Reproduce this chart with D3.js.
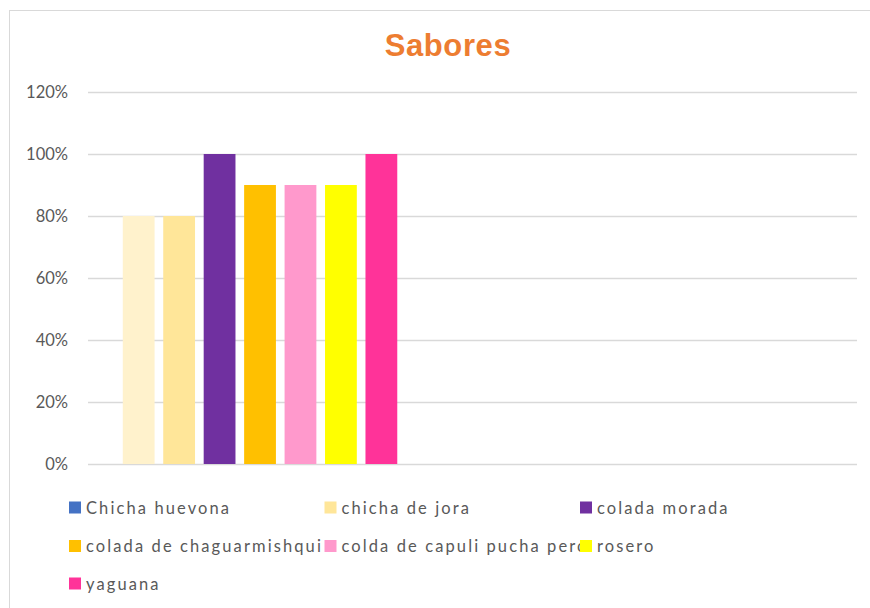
<!DOCTYPE html>
<html>
<head>
<meta charset="utf-8">
<script src="https://cdn.jsdelivr.net/npm/d3@7"></script>
<style>
  html, body { margin: 0; padding: 0; background: #fff; }
  svg { display: block; }
</style>
</head>
<body>
<svg id="chart"></svg>
<script>
(function(){
  // DATA
  const title = "Sabores";
  const categories = ["Sabores", "vacío"];
  const series = ["Chicha huevona", "chicha de jora", "colada morada", "colada de chaguarmishqui",
                  "colda de capuli pucha pero", "rosero", "yaguana", ""];
  const values = [0.8, 0.8, 1.0, 0.9, 0.9, 0.9, 1.0, null];
  const barColors = ["#FFF2CC", "#FFE699", "#7030A0", "#FFC000", "#FF99CC", "#FFFF00", "#FF3399", "none"];
  const legendColors = ["#4472C4", "#FFE699", "#7030A0", "#FFC000", "#FF99CC", "#FFFF00", "#FF3399"];
  const yTicks = [0, 0.2, 0.4, 0.6, 0.8, 1.0, 1.2];

  const w = 870, h = 608;
  const left = 88, right = 857, top = 92, bottom = 464;

  const svg = d3.select("#chart").attr("width", w).attr("height", h);

  // chart area border (runs off the picture on the right and bottom)
  svg.append("rect")
    .attr("x", 9.5).attr("y", 10.5)
    .attr("width", 900).attr("height", 640)
    .attr("fill", "#fff")
    .attr("stroke", "#D9D9D9");

  // TITLE
  svg.append("text")
    .attr("x", 448).attr("y", 56)
    .attr("text-anchor", "middle")
    .attr("font-family", "Liberation Sans, Arial, sans-serif")
    .attr("font-weight", "bold")
    .attr("font-size", 31)
    .attr("letter-spacing", 0.6)
    .attr("fill", "#ED7D31")
    .text(title);

  // SCALES
  const x0 = d3.scaleBand().domain(categories).range([left, right]);
  const x1 = d3.scaleBand().domain(series.map((d, i) => i))
    .range([0, x0.bandwidth()])
    .paddingInner(0.214)
    .paddingOuter(0.86);
  const y = d3.scaleLinear().domain([0, 1.2]).range([bottom, top]);

  // GRID + Y AXIS
  const yAxis = d3.axisLeft(y)
    .tickValues(yTicks)
    .tickSize(-(right - left))
    .tickPadding(20)
    .tickFormat(d3.format(".0%"));

  const gy = svg.append("g")
    .attr("transform", "translate(" + left + ",0)")
    .call(yAxis);
  gy.select(".domain").remove();
  gy.selectAll(".tick line").attr("stroke", "#D9D9D9").attr("stroke-width", 1.3);
  gy.selectAll(".tick text")
    .attr("font-family", "Lato, sans-serif")
    .attr("font-size", 16.5)
    .attr("fill", "#595959");

  // BARS
  svg.append("g")
    .selectAll("rect")
    .data(values.map((v, i) => ({ v: v, i: i })).filter(d => d.v != null))
    .enter()
    .append("rect")
    .attr("x", d => x0(categories[0]) + x1(d.i))
    .attr("y", d => y(d.v))
    .attr("width", x1.bandwidth())
    .attr("height", d => y(0) - y(d.v))
    .attr("fill", d => barColors[d.i]);

  // LEGEND
  const legendNames = series.filter(s => s !== "");
  const colX = [69, 324.5, 580];
  const rowY = [507.5, 546, 583.5];
  const leg = svg.append("g");
  legendNames.forEach((name, i) => {
    const cx = colX[i % 3], cy = rowY[Math.floor(i / 3)];
    leg.append("text")
      .attr("x", cx + 17).attr("y", cy + 6)
      .attr("font-family", "Lato, sans-serif")
      .attr("font-size", 16.5)
      .attr("letter-spacing", 2.1)
      .attr("fill", "#595959")
      .text(name);
  });
  legendNames.forEach((name, i) => {
    const cx = colX[i % 3], cy = rowY[Math.floor(i / 3)];
    leg.append("rect")
      .attr("x", cx).attr("y", cy - 6)
      .attr("width", 12).attr("height", 12)
      .attr("fill", legendColors[i]);
  });
})();
</script>
</body>
</html>
